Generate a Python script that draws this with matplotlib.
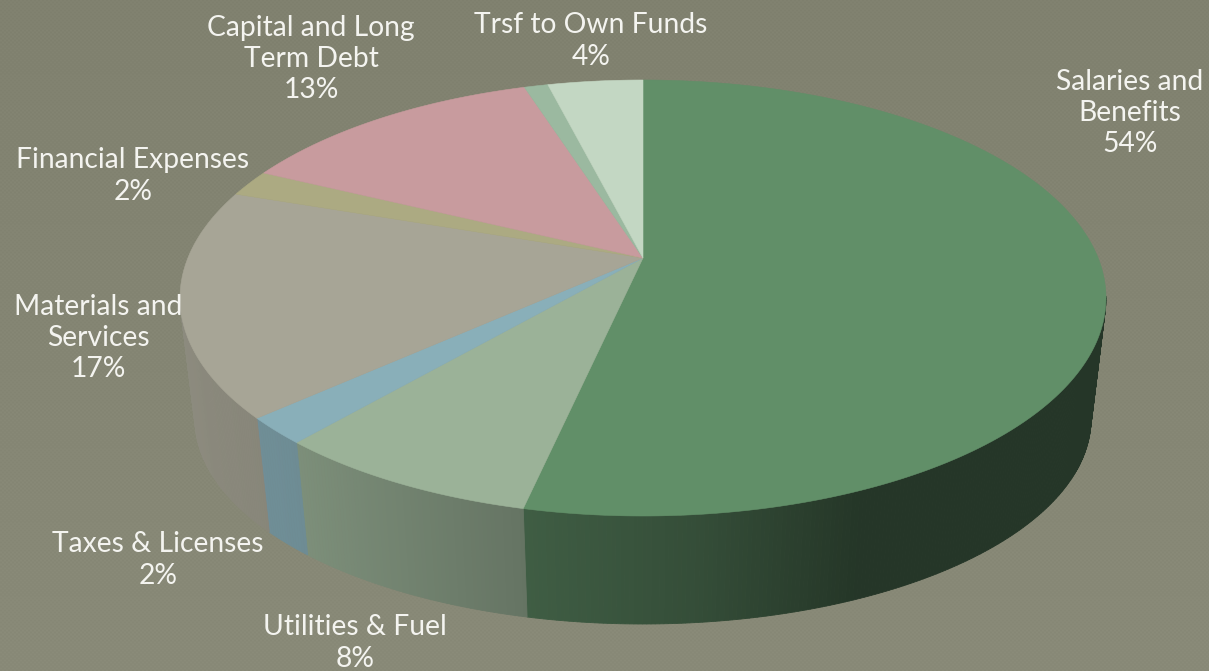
import numpy as np
import matplotlib
matplotlib.use('Agg')
import matplotlib.pyplot as plt

categories = ['Salaries and\nBenefits', 'Utilities & Fuel', 'Taxes & Licenses', 'Materials and\nServices',
              'Financial Expenses', 'Capital and Long\nTerm Debt', '', 'Trsf to Own Funds']
values = [54, 8, 2, 17, 2, 13, 1, 4]
colors = ['#618F68', '#9BB298', '#89AFB9', '#A7A596', '#ACAA82', '#C89B9E', '#9BB9A0', '#C3D7C3']
label_pos = [(1130, 113), (355, 643), (158, 560), (98, 338), (133, 176), (311, 59), (0, 0), (591, 41)]

W, H = 1209, 671
CX, APEX_Y = 643, 258   # where the slices meet on the top face
TOP_Y, BOT_Y = 80, 516  # top face extent
FRONT_RX, FRONT_RY, FRONT_CY = 448, 205, 419  # lower rim ellipse
RIM_RX = 463

up = APEX_Y - TOP_Y
down = BOT_Y - APEX_Y
k = (down - up) / (down + up)
S = up * (1 + k)
R = RIM_RX * np.sqrt(1 - k * k)
RIM_CY = (TOP_Y + BOT_Y) / 2
RIM_RY = (BOT_Y - TOP_Y) / 2


def rim(t):
    # perspective view of the circle, t clockwise from 12 o'clock
    x, y = np.sin(t), np.cos(t)
    w = 1 + k * y
    return CX + R * x / w, APEX_Y - S * y / w


def lower(t):
    x, y = rim(t)
    nx = (x - CX) / RIM_RX
    ny = (y - RIM_CY) / RIM_RY
    return CX + FRONT_RX * nx, FRONT_CY + FRONT_RY * ny


def shade(x):
    return np.interp(x, [180, 300, 512, 700, 860, 1110], [0.84, 0.80, 0.66, 0.54, 0.38, 0.38])


def drawBackground(ax):
    yy, xx = np.mgrid[0:H, 0:W]
    level = 128 + 9 * yy / H
    hatch = (((xx + yy) % 4 < 2).astype(float) + ((xx - yy) % 4 < 2).astype(float) - 1) * 1.6
    g = level + hatch
    img = np.dstack([g, g + 1, g - 17]) / 255
    ax.imshow(img, extent=[0, W, H, 0], interpolation='nearest', aspect='auto', zorder=0)


def drawWall(ax, t0, t1, c):
    # side of one slice, cut in thin strips so the shading runs smoothly
    base = np.array(matplotlib.colors.to_rgb(c))
    n = max(3, int((t1 - t0) / 0.008))
    ts = np.linspace(t0, t1, n + 1)
    for a, b in zip(ts[:-1], ts[1:]):
        xa, ya = rim(a)
        xb, yb = rim(b)
        # the far side is hidden behind the top face
        if max(ya, yb) < RIM_CY:
            continue
        xc, yc = lower(b)
        xd, yd = lower(a)
        col = base * shade((xa + xb) / 2)
        ax.fill([xa, xb, xc, xd], [ya, yb, yc, yd], color=col, lw=0.6, zorder=2)


def drawSlice(ax, t0, t1, c):
    ts = np.linspace(t0, t1, max(3, int((t1 - t0) / 0.005)))
    x, y = rim(ts)
    ax.fill(np.r_[CX, x], np.r_[APEX_Y, y], color=c, lw=0.4, zorder=3)


fig = plt.figure(figsize=(W / 100, H / 100), dpi=100)
ax = fig.add_axes([0, 0, 1, 1])
drawBackground(ax)

edges = 2 * np.pi * np.r_[0, np.cumsum(values)] / sum(values)
for i in range(len(values)):
    drawWall(ax, edges[i], edges[i + 1], colors[i])
for i in range(len(values)):
    drawSlice(ax, edges[i], edges[i + 1], colors[i])

for name, v, (lx, ly) in zip(categories, values, label_pos):
    if name:
        ax.text(lx, ly, '%s\n%d%%' % (name, v), ha='center', va='center', color='#F4F4F0',
                fontsize=20.3, family='Lato', linespacing=1.25, zorder=5)

ax.set_xlim(0, W)
ax.set_ylim(H, 0)
ax.axis('off')
fig.savefig('out.png', dpi=100)
